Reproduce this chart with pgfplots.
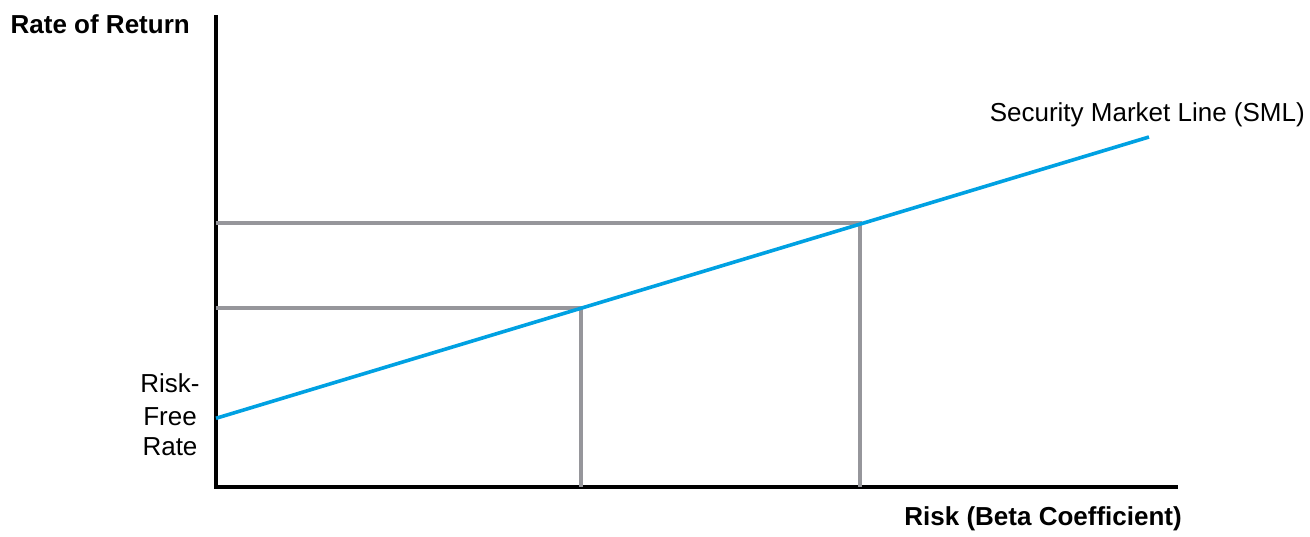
\documentclass[border=0pt]{standalone}
\usepackage{fontspec}
\setmainfont{Liberation Sans}
\usepackage{pgfplots}
\pgfplotsset{compat=1.18}
\definecolor{smlblue}{RGB}{0,161,226}
\definecolor{guidegray}{RGB}{150,150,155}
\begin{document}
\begin{tikzpicture}
\path[use as bounding box] (-216bp,-50bp) rectangle (1094bp,487bp);
\begin{axis}[
  at={(0,0)}, anchor=origin,
  x=1bp, y=1bp,
  xmin=0, xmax=960, ymin=0, ymax=470,
  axis lines*=left,
  axis line style={line width=4bp, line cap=rect, black},
  xtick=\empty, ytick=\empty,
  clip=false,
  font=\fontsize{26bp}{31bp}\selectfont,
]
\addplot[guidegray, line width=3.6bp, no markers] coordinates {(0,179) (365,179) (365,0)};
\addplot[guidegray, line width=3.6bp, no markers] coordinates {(0,264) (644,264) (644,0)};
\addplot[smlblue, line width=3.6bp, no markers] coordinates {(0,68.7) (933,350)};
\node[inner sep=0pt, anchor=base east, font=\fontsize{26bp}{31bp}\bfseries] at (axis cs:-26,454) {Rate of Return};
\node[inner sep=0pt, anchor=base east, font=\fontsize{26bp}{31bp}\bfseries] at (axis cs:966,-38) {Risk (Beta Coefficient)};
\node[inner sep=0pt, anchor=base east, font=\fontsize{26bp}{31bp}\selectfont] at (axis cs:1089,366) {Security Market Line (SML)};
\node[inner sep=0pt, anchor=base, font=\fontsize{26bp}{31bp}\selectfont] at (axis cs:-46,95) {Risk-};
\node[inner sep=0pt, anchor=base, font=\fontsize{26bp}{31bp}\selectfont] at (axis cs:-46,62) {Free};
\node[inner sep=0pt, anchor=base, font=\fontsize{26bp}{31bp}\selectfont] at (axis cs:-46,32) {Rate};
\end{axis}
\end{tikzpicture}
\end{document}
